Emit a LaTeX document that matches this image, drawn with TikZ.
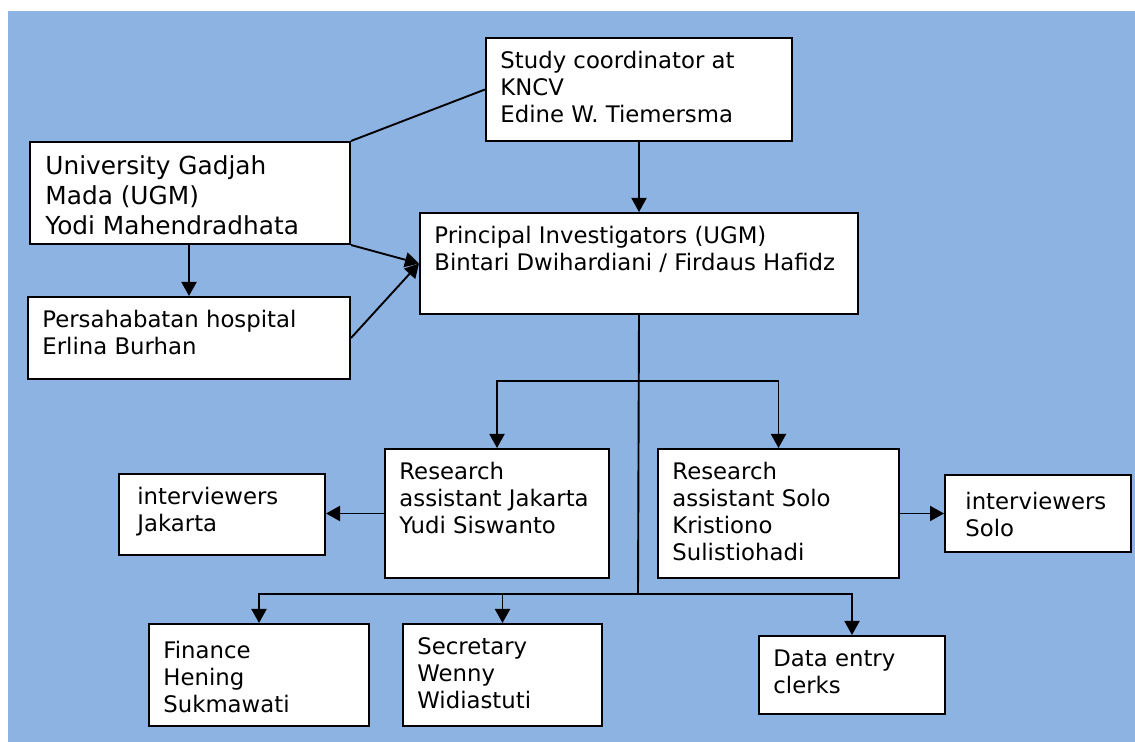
\documentclass[tikz,border=0pt]{standalone}
\usepackage{fontspec}
\setmainfont{DejaVu Sans}
\usepackage{tikz}
\usetikzlibrary{arrows.meta}
\definecolor{bgblue}{RGB}{141,179,226}

\begin{document}
\begin{tikzpicture}[x=0.5pt, y=-0.5pt,
	box/.style={draw, fill=white, line width=1pt, anchor=north west, inner sep=0pt},
	txt/.style={anchor=north west, align=left, inner xsep=7.5pt, inner ysep=7pt, font=\fontsize{11.4}{13.5}\selectfont},
	arr/.style={line width=0.95pt, -{Triangle[length=7pt, width=7.5pt]}},
	ln/.style={line width=0.95pt}]
			\useasboundingbox (0,0) rectangle (1135,742);
			\fill[bgblue] (8,11) rectangle (1135,742);
			
			% top of the chart
			\node[box, minimum width=153pt, minimum height=51.5pt, label={[txt]north west:{Study coordinator at\\KNCV\\Edine W. Tiemersma}}] (sc) at (485,37) {};
			\node[box, minimum width=160pt, minimum height=51pt, label={[txt, inner xsep=8pt, font=\fontsize{12.4}{15}\selectfont]north west:{University Gadjah\\Mada (UGM)\\Yodi Mahendradhata}}] (ugm) at (29,141) {};
			\node[box, minimum width=161pt, minimum height=41pt, label={[txt]north west:{Persahabatan hospital\\Erlina Burhan}}] (ph) at (27,296) {};
			\node[box, minimum width=219pt, minimum height=50.5pt, label={[txt]north west:{Principal Investigators (UGM)\\Bintari Dwihardiani / Firdaus Hafidz}}] (pi) at (419,212) {};
			
			% research assistants
			\node[box, minimum width=112pt, minimum height=64.5pt, label={[txt]north west:{Research\\assistant Jakarta\\Yudi Siswanto}}] (raj) at (384,448) {};
			\node[box, minimum width=120.5pt, minimum height=64.5pt, label={[txt]north west:{Research\\assistant Solo\\Kristiono\\Sulistiohadi}}] (ras) at (657,448) {};
			\node[box, minimum width=103pt, minimum height=40.5pt, label={[txt, inner xsep=9.5pt]north west:{interviewers\\Jakarta}}] (ivj) at (118,473) {};
			\node[box, minimum width=93pt, minimum height=38.5pt, label={[txt, inner xsep=10.5pt, inner ysep=9pt]north west:{interviewers\\Solo}}] (ivs) at (944,474) {};
			
			% staff
			\node[box, minimum width=110pt, minimum height=51pt, label={[txt, inner ysep=9pt]north west:{Finance\\Hening\\Sukmawati}}] (fin) at (148,623) {};
			\node[box, minimum width=99.5pt, minimum height=51pt, label={[txt]north west:{Secretary\\Wenny\\Widiastuti}}] (sec) at (402,623) {};
			\node[box, minimum width=93pt, minimum height=39pt, label={[txt]north west:{Data entry\\clerks}}] (dec) at (758,635) {};
			
			\coordinate (split1) at (638,381);
			\coordinate (split2) at (638,594);
			
			\draw[ln] (ugm.north east) -- (sc.west);
			\draw[arr] (sc) -- (pi);
			\draw[arr] (ugm.south east) -- (pi.west);
			\draw[arr] (ph.east) -- (pi.west);
			\draw[arr] (ugm.south -| ph.north) -- (ph.north);
			
			\draw[ln] (pi.south) -- (split2);
			\draw[arr] (split1) -| (raj.north);
			\draw[arr] (split1) -| (ras.north);
			\draw[arr] (raj.west) -- (ivj.east |- raj.west);
			\draw[arr] (ras.east) -- (ivs.west |- ras.east);
			\draw[arr] (split2) -| (fin.north);
			\draw[arr] (split2) -| (sec.north);
			\draw[arr] (split2) -| (dec.north);
\end{tikzpicture}
\end{document}
